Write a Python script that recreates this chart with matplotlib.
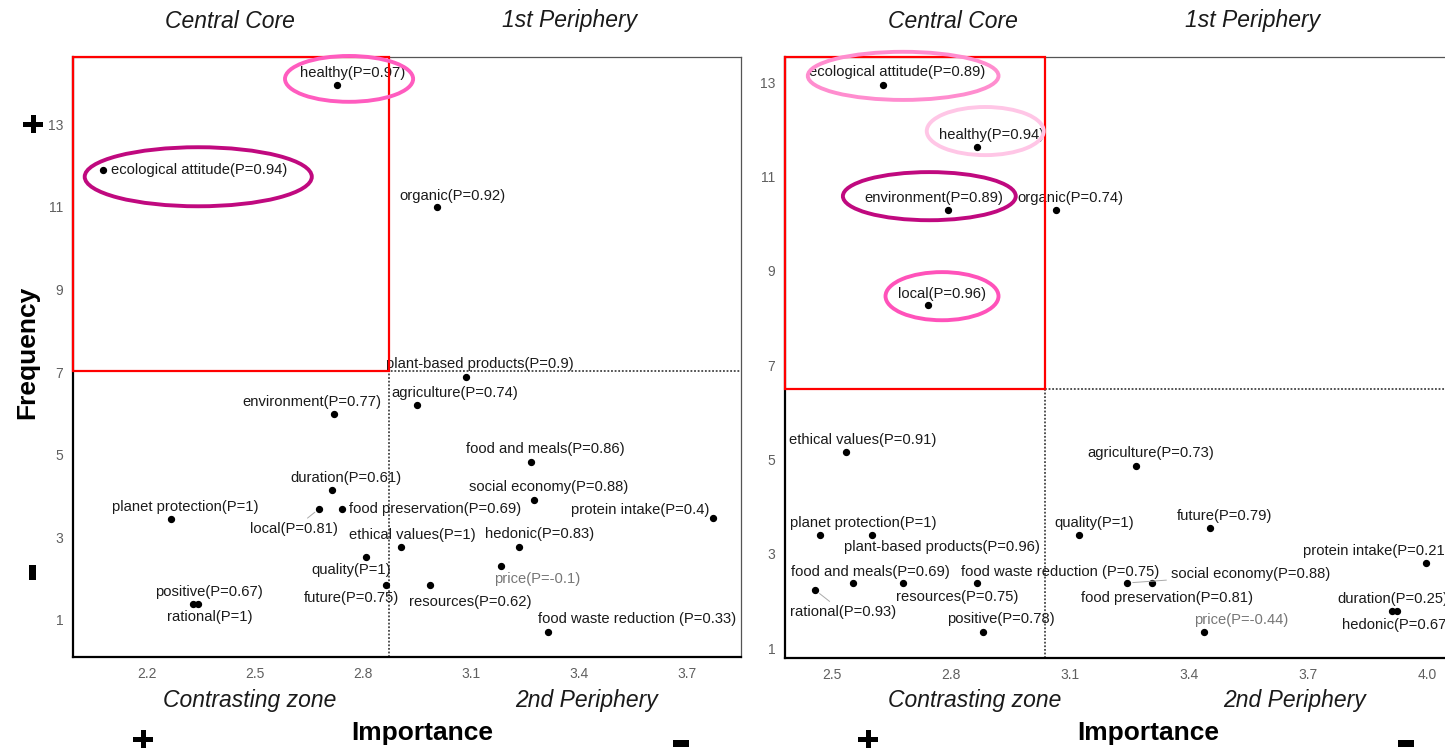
import matplotlib.pyplot as plt
from matplotlib.patches import Ellipse, Rectangle
from matplotlib.ticker import FormatStrFormatter

plt.rcParams['font.family'] = ['Liberation Sans', 'DejaVu Sans']

W, H = 1445, 749

# -----------------------------
# Data
# -----------------------------
left_terms = ["healthy", "ecological attitude", "organic", "plant-based products",
              "agriculture", "environment", "food and meals", "duration", "local",
              "food preservation", "planet protection", "social economy",
              "protein intake", "ethical values", "hedonic", "quality", "price",
              "future", "resources", "positive", "rational", "food waste reduction "]
left_p = [0.97, 0.94, 0.92, 0.9, 0.74, 0.77, 0.86, 0.61, 0.81, 0.69, 1, 0.88,
          0.4, 1, 0.83, 1, -0.1, 0.75, 0.62, 0.67, 1, 0.33]
left_importance = [2.728, 2.078, 3.006, 3.086, 2.950, 2.719, 3.267, 2.714, 2.678,
                   2.742, 2.267, 3.275, 3.772, 2.906, 3.233, 2.808, 3.183, 2.864,
                   2.986, 2.328, 2.342, 3.314]
left_frequency = [13.95, 11.9, 11.0, 6.88, 6.2, 5.99, 4.83, 4.15, 3.69, 3.69, 3.45,
                  3.9, 3.47, 2.77, 2.77, 2.53, 2.31, 1.85, 1.85, 1.39, 1.39, 0.71]
left_cut = (2.872, 7.03)

right_terms = ["ecological attitude", "healthy", "environment", "organic", "local",
               "ethical values", "agriculture", "planet protection",
               "plant-based products", "quality", "future", "protein intake",
               "food and meals", "resources", "food waste reduction ",
               "social economy", "food preservation", "rational", "positive",
               "price", "duration", "hedonic"]
right_p = [0.89, 0.94, 0.89, 0.74, 0.96, 0.91, 0.73, 1, 0.96, 1, 0.79, 0.21, 0.69,
           0.75, 0.75, 0.88, 0.81, 0.93, 0.78, -0.44, 0.25, 0.67]
right_importance = [2.629, 2.866, 2.793, 3.065, 2.742, 2.535, 3.266, 2.470, 2.600,
                    3.123, 3.453, 3.997, 2.553, 2.679, 2.866, 3.244, 3.307, 2.457,
                    2.881, 3.438, 3.912, 3.925]
right_frequency = [12.94, 11.62, 10.29, 10.29, 8.27, 5.16, 4.86, 3.40, 3.40, 3.40,
                   3.54, 2.80, 2.38, 2.38, 2.38, 2.38, 2.38, 2.23, 1.34, 1.34,
                   1.78, 1.78]
right_cut = (3.037, 6.49)

# -----------------------------
# Label placement (pixel offsets from the dot, ggrepel-like)
# -----------------------------
left_offsets = {
    "healthy": (15, 12), "ecological attitude": (96, 0), "organic": (15, 11),
    "plant-based products": (14, 13), "agriculture": (38, 12),
    "environment": (-22, 12), "food and meals": (14, 13), "duration": (14, 12),
    "local": (-25, -20), "food preservation": (93, 0),
    "planet protection": (14, 12), "social economy": (15, 13),
    "protein intake": (-73, 8), "ethical values": (11, 12), "hedonic": (21, 13),
    "quality": (-15, -13), "price": (36, -13), "future": (-35, -13),
    "resources": (40, -17), "positive": (16, 12), "rational": (11, -13),
    "food waste reduction ": (89, 13),
}
right_offsets = {
    "ecological attitude": (14, 13), "healthy": (14, 12), "environment": (-15, 12),
    "organic": (14, 12), "local": (14, 11), "ethical values": (17, 12),
    "agriculture": (15, 13), "planet protection": (43, 12),
    "plant-based products": (70, -12), "quality": (15, 12), "future": (14, 12),
    "protein intake": (-49, 12), "food and meals": (17, 11),
    "resources": (54, -14), "food waste reduction ": (83, 11),
    "social economy": (123, 9), "food preservation": (15, -15),
    "rational": (28, -22), "positive": (18, 13), "price": (37, 12),
    "duration": (1, 12), "hedonic": (-1, -14),
}
left_leaders = ["local"]
right_leaders = ["rational", "social economy"]

# highlighted terms: (centre x, centre y, width, height) in data units, colour
left_rings = [((2.761, 14.10), 0.356, 1.11, "#FF5CBF"),
              ((2.342, 11.73), 0.631, 1.43, "#C0097F")]
right_rings = [((2.679, 13.13), 0.481, 1.02, "#FF8DCF"),
               ((2.886, 11.96), 0.295, 1.02, "#FFC6E6"),
               ((2.745, 10.58), 0.436, 1.02, "#C0097F"),
               ((2.777, 8.46), 0.285, 1.02, "#FF52BA")]


def draw_panel(ax, terms, pvals, xs, ys, cut, offsets, leaders, rings, xlim, ylim,
               xticks):
    ax.set_xlim(*xlim)
    ax.set_ylim(*ylim)
    ax.set_xticks(xticks)
    ax.set_yticks([1, 3, 5, 7, 9, 11, 13])
    ax.xaxis.set_major_formatter(FormatStrFormatter('%.1f'))
    ax.tick_params(length=0, labelsize=10, labelcolor="#5f5f5f", pad=7)

    for s in ["left", "bottom"]:
        ax.spines[s].set_linewidth(1.6)
        ax.spines[s].set_color("black")
    for s in ["top", "right"]:
        ax.spines[s].set_linewidth(0.9)
        ax.spines[s].set_color("#555555")

    ax.axvline(cut[0], color="#444444", lw=1.3, ls=(0, (1, 1)), zorder=1)
    ax.axhline(cut[1], color="#444444", lw=1.3, ls=(0, (1, 1)), zorder=1)

    ax.scatter(xs, ys, s=18, color="black", zorder=3)

    for t, p, x, y in zip(terms, pvals, xs, ys):
        label = f"{t}(P={p:g})"
        col = "#777777" if p < 0 else "#1a1a1a"
        arrow = None
        if t in leaders:
            arrow = dict(arrowstyle="-", color="#aaaaaa", lw=0.7, shrinkA=1, shrinkB=4)
        ax.annotate(label, (x, y), xytext=offsets[t], textcoords="offset pixels",
                    ha="center", va="center", fontsize=10.6, color=col,
                    arrowprops=arrow, zorder=4, annotation_clip=False)

    # red frame around the central core
    ax.add_patch(Rectangle((xlim[0], cut[1]), cut[0] - xlim[0], ylim[1] - cut[1],
                           fill=False, edgecolor="#FF0000", lw=1.6, zorder=5,
                           clip_on=False))
    for c, w, h, col in rings:
        ax.add_patch(Ellipse(c, w, h, fill=False, edgecolor=col, lw=2.8, zorder=5,
                             clip_on=False))


fig = plt.figure(figsize=(W / 100, H / 100), dpi=100, facecolor="white")

ax1 = fig.add_axes([73 / W, 1 - 657 / H, 668 / W, 600 / H])
draw_panel(ax1, left_terms, left_p, left_importance, left_frequency, left_cut,
           left_offsets, left_leaders, left_rings, (1.994, 3.85), (0.10, 14.63),
           [2.2, 2.5, 2.8, 3.1, 3.4, 3.7])

ax2 = fig.add_axes([785 / W, 1 - 658 / H, 680 / W, 601 / H])
draw_panel(ax2, right_terms, right_p, right_importance, right_frequency, right_cut,
           right_offsets, right_leaders, right_rings, (2.381, 4.096), (0.79, 13.53),
           [2.5, 2.8, 3.1, 3.4, 3.7, 4.0])


def ftext(px, py, s, **kw):
    fig.text(px / W, 1 - py / H, s, ha="center", va="center", **kw)


def fbar(cx, cy, w, h):
    # solid black bar, centred on a pixel position of the figure
    fig.add_artist(Rectangle(((cx - w / 2) / W, 1 - (cy + h / 2) / H), w / W, h / H,
                             transform=fig.transFigure, color="black", lw=0))


# quadrant names
for cx, quad in [(230, "Central Core"), (570, "1st Periphery"),
                 (953, "Central Core"), (1253, "1st Periphery")]:
    ftext(cx, 21, quad, fontsize=16.5, style="italic", color="#1a1a1a")
for cx, quad in [(250, "Contrasting zone"), (587, "2nd Periphery"),
                 (975, "Contrasting zone"), (1295, "2nd Periphery")]:
    ftext(cx, 700, quad, fontsize=16.5, style="italic", color="#1a1a1a")

# axis titles
ftext(422, 733, "Importance", fontsize=19, weight="bold")
ftext(1148, 733, "Importance", fontsize=19, weight="bold")
ftext(27, 352, "Frequency", fontsize=19, weight="bold", rotation=90)

# "+" and "-" markers
for px, py in [(33, 124), (143, 739), (868, 739)]:
    fbar(px, py, 20, 5)
    fbar(px, py, 5, 18)
fbar(32, 572, 7, 15)
fbar(681, 743, 16, 7)
fbar(1406, 743, 16, 7)

plt.savefig("out.png", dpi=100, facecolor="white")
